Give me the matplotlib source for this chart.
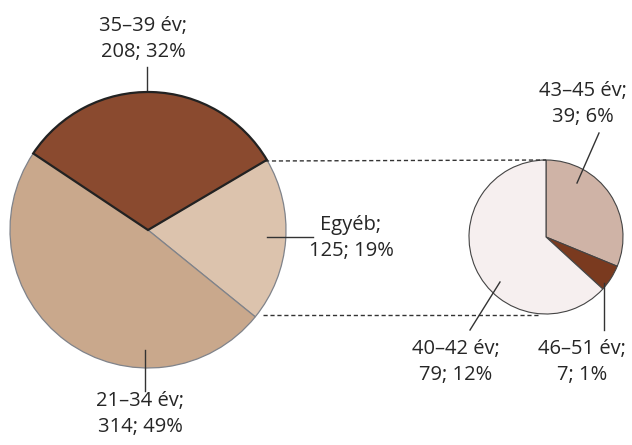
import matplotlib.pyplot as plt

plt.rcParams['font.family'] = ['Open Sans', 'DejaVu Sans']

# main pie: the three largest groups, "Egyéb" is broken down on the right
main_labels = ['Egyéb', '35–39 év', '21–34 év']
main_values = [125, 208, 314]
main_pcts = [19, 32, 49]
main_colors = ['#dcc3ad', '#8a4a2f', '#c9a88c']

# breakdown of "Egyéb"
sub_labels = ['43–45 év', '46–51 év', '40–42 év']
sub_values = [39, 7, 79]
sub_pcts = [6, 1, 12]
sub_colors = ['#cfb3a6', '#7a3a1f', '#f6efef']

fig = plt.figure(figsize=(6.32, 4.45), dpi=100)
ax = fig.add_axes([0, 0, 1, 1])

main_c, main_r = (148, 230), 138
sub_c, sub_r = (546, 237), 77

# the y axis is flipped below, so angles run the other way round
wedges, _ = ax.pie(main_values, colors=main_colors, startangle=39,
                   center=main_c, radius=main_r, counterclock=False,
                   wedgeprops=dict(edgecolor='#80838a', linewidth=0.9))
wedges[1].set_edgecolor('#222222')
wedges[1].set_linewidth(1.6)
wedges[1].set_zorder(3)

sub_wedges, _ = ax.pie(sub_values, colors=sub_colors, startangle=-90,
                       center=sub_c, radius=sub_r, counterclock=True,
                       wedgeprops=dict(edgecolor='#444444', linewidth=0.8))

ax.set_xlim(0, 632)
ax.set_ylim(445, 0)
ax.set_aspect('equal')
ax.axis('off')

# dashed connectors between the pies
ax.plot([265, 546], [161, 160], ls=(0, (3, 2)), color='#333333', lw=1)
ax.plot([263, 540], [315, 315], ls=(0, (3, 2)), color='#333333', lw=1)

txt = dict(fontsize=14.5, color='#262626', ha='center', va='center',
           linespacing=1.45, fontweight='medium')
lead = dict(color='#333333', lw=1)


def label(name, val, pct):
    return f'{name};\n{val}; {pct}%'


ax.text(143, 39, label(main_labels[1], main_values[1], main_pcts[1]), **txt)
ax.plot([147, 147], [67, 93], **lead)

ax.text(351, 238, label(main_labels[0], main_values[0], main_pcts[0]), **txt)
ax.plot([267, 313], [237, 237], **lead)

ax.text(140, 414, label(main_labels[2], main_values[2], main_pcts[2]), **txt)
ax.plot([145, 145], [350, 391], **lead)

ax.text(583, 104, label(sub_labels[0], sub_values[0], sub_pcts[0]), **txt)
ax.plot([599, 577], [133, 183], **lead)

ax.text(456, 362, label(sub_labels[2], sub_values[2], sub_pcts[2]), **txt)
ax.plot([500, 470], [282, 330], **lead)

ax.text(582, 362, label(sub_labels[1], sub_values[1], sub_pcts[1]), **txt)
ax.plot([604, 604], [283, 330], **lead)

fig.savefig('out.png', dpi=100)
